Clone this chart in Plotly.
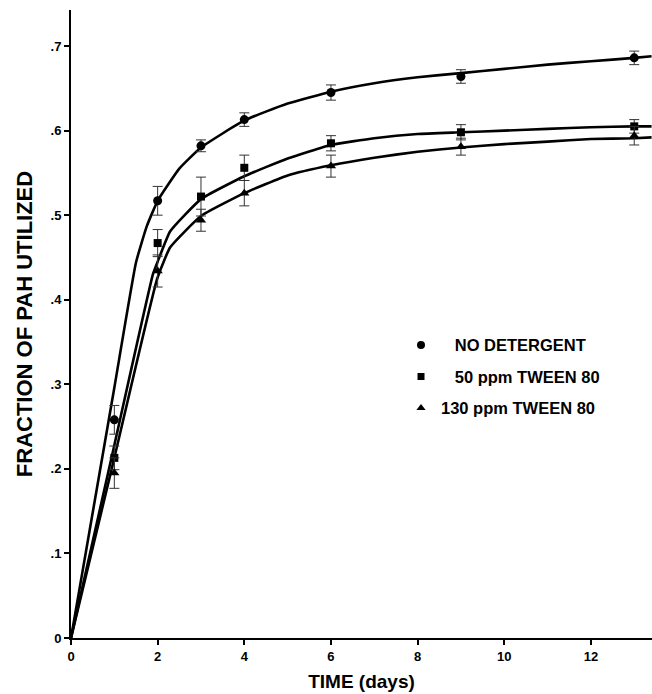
import plotly.graph_objects as go

# ---- measured data points ----
days = [1, 2, 3, 4, 6, 9, 13]
no_det = [0.258, 0.517, 0.582, 0.613, 0.645, 0.664, 0.686]
no_det_err = [0.017, 0.017, 0.007, 0.008, 0.009, 0.008, 0.008]
tw50 = [0.213, 0.467, 0.522, 0.556, 0.585, 0.598, 0.605]
tw50_err = [0.014, 0.016, 0.023, 0.015, 0.009, 0.009, 0.008]
tw130 = [0.195, 0.434, 0.494, 0.526, 0.558, 0.581, 0.594]
tw130_err = [0.018, 0.019, 0.013, 0.015, 0.013, 0.010, 0.011]

# ---- fitted curves ----
c_nd_x = [0, 1.0, 1.5, 1.75, 2.0, 2.5, 3, 4, 5, 6, 7, 8, 9, 10, 11, 12, 13, 13.4]
c_nd_y = [0, 0.296, 0.444, 0.487, 0.517, 0.555, 0.580, 0.612, 0.632, 0.646, 0.656, 0.663,
          0.668, 0.673, 0.678, 0.682, 0.686, 0.688]
c_50_x = [0, 1.0, 1.89, 2.0, 2.29, 3, 4, 5, 6, 7, 8, 9, 10, 11, 12, 13, 13.4]
c_50_y = [0, 0.228, 0.430, 0.445, 0.481, 0.519, 0.546, 0.567, 0.583, 0.591, 0.596, 0.598,
          0.600, 0.602, 0.604, 0.605, 0.605]
c_130_x = [0, 1.0, 1.99, 2.29, 3, 4, 5, 6, 7, 8, 9, 10, 11, 12, 13, 13.4]
c_130_y = [0, 0.213, 0.425, 0.462, 0.499, 0.526, 0.547, 0.559, 0.568, 0.575, 0.580, 0.584,
           0.587, 0.590, 0.591, 0.592]

legend_names = ["\u00a0\u00a0\u00a0NO DETERGENT", "\u00a0\u00a0\u00a050 ppm TWEEN 80", "130 ppm TWEEN 80"]
y_tickvals = [0, 0.1, 0.2, 0.3, 0.4, 0.5, 0.6, 0.7]
y_ticktext = ["0", ".1", ".2", ".3", ".4", ".5", ".6", ".7"]
x_tickvals = [0, 2, 4, 6, 8, 10, 12]

FONT = "Liberation Sans, Arial, Helvetica, sans-serif"

fig = go.Figure()

for cx, cy in [(c_nd_x, c_nd_y), (c_50_x, c_50_y), (c_130_x, c_130_y)]:
    fig.add_trace(go.Scatter(x=cx, y=cy, mode="lines", showlegend=False,
                             line=dict(color="black", width=2.6, shape="spline", smoothing=0.4),
                             hoverinfo="skip", cliponaxis=False))

series = [
    (no_det, no_det_err, "circle", 9),
    (tw50, tw50_err, "square", 8),
    (tw130, tw130_err, "triangle-up", 9),
]
for (vals, errs, sym, sz), name in zip(series, legend_names):
    fig.add_trace(go.Scatter(
        x=days, y=vals, mode="markers", showlegend=False,
        marker=dict(symbol=sym, size=sz, color="black"),
        error_y=dict(type="data", array=errs, visible=True, color="#333333",
                     thickness=1, width=5),
        cliponaxis=False))
    # legend-only entry
    fig.add_trace(go.Scatter(
        x=[None], y=[None], mode="markers", name=name, legendgroup=name,
        marker=dict(symbol=sym, size=sz - 1, color="black")))

fig.update_layout(
    width=652, height=694,
    margin=dict(l=71, r=0, t=10, b=56),
    paper_bgcolor="white", plot_bgcolor="white",
    font=dict(family=FONT, size=13, color="black", weight="bold"),
    showlegend=True,
    legend=dict(x=0.568, y=0.494, xanchor="left", yanchor="top",
                font=dict(family=FONT, size=16.5, color="black", weight="bold"),
                tracegroupgap=7, itemwidth=30, bgcolor="rgba(0,0,0,0)"),
    xaxis=dict(range=[0, 13.41], tickvals=x_tickvals, showgrid=False, zeroline=False,
               showline=True, linecolor="black", linewidth=2, automargin=False,
               ticks="outside", ticklen=5, tickwidth=2, tickcolor="black",
               tickfont=dict(family=FONT, size=13, weight="bold"),
               title=dict(text="TIME (days)", standoff=12,
                          font=dict(family=FONT, size=19, weight="bold"))),
    yaxis=dict(range=[0, 0.7426], tickvals=y_tickvals, ticktext=y_ticktext,
               showgrid=False, zeroline=False, automargin=False,
               showline=True, linecolor="black", linewidth=2,
               ticks="outside", ticklen=5, tickwidth=2, tickcolor="black",
               tickfont=dict(family=FONT, size=13, weight="bold"),
               title=dict(text="FRACTION OF PAH UTILIZED", standoff=12,
                          font=dict(family=FONT, size=22, weight="bold"))),
)

fig.write_html("out.html", config={"displayModeBar": False},
               post_script="document.body.style.margin='0';document.body.style.padding='0';")
